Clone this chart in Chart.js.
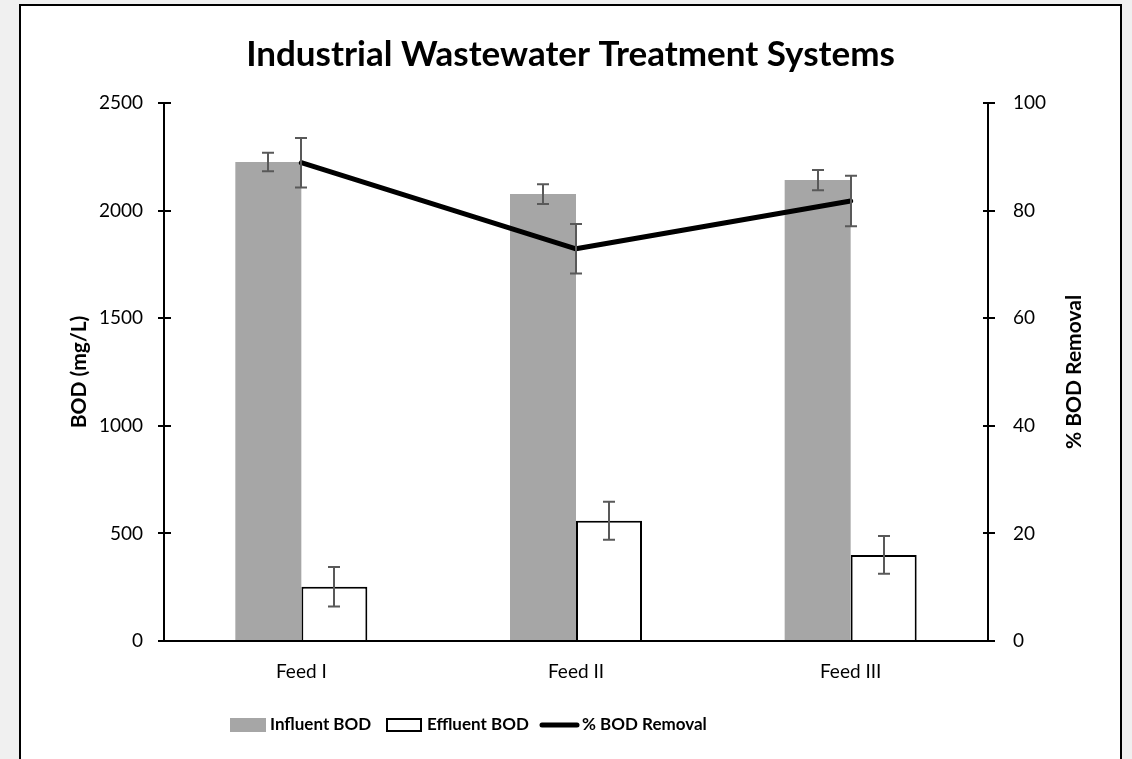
<!DOCTYPE html>
<html>
<head>
<meta charset="utf-8">
<script src="https://cdn.jsdelivr.net/npm/chart.js@4"></script>
<style>
  body { margin: 0; background: #f0f0f0; }
  #box {
    position: absolute; left: 19px; top: 4px;
    width: 1099px; height: 800px;
    border: 2px solid #000; background: #fff;
  }
  #wrap { position: relative; width: 1099px; height: 753px; }
</style>
</head>
<body>
<div id="box"><div id="wrap"><canvas id="bodChart"></canvas></div></div>
<script>
// data
const feeds = ["Feed I", "Feed II", "Feed III"];
const influentBOD = [2226, 2077, 2142];
const influentErr = [43, 46, 47];
const effluentBOD = [252, 559, 400];
const effluentErr = [92, 88, 88];
const bodRemoval = [88.9, 72.9, 81.8];
const removalErr = [4.6, 4.6, 4.7];

Chart.defaults.font.family = "Lato";
Chart.defaults.color = "#000";

// error bars, drawn through the scales
const errorBars = {
    id: "errorBars",
    afterDatasetsDraw(chart) {
        const ctx = chart.ctx;
        ctx.save();
        ctx.strokeStyle = "#595959";
        ctx.lineWidth = 2;
        chart.data.datasets.forEach(function (ds, i) {
            if (!ds.errors) return;
            const meta = chart.getDatasetMeta(i);
            const scale = chart.scales[ds.yAxisID || "y"];
            meta.data.forEach(function (el, j) {
                const x = Math.round(el.x);
                const top = scale.getPixelForValue(ds.data[j] + ds.errors[j]);
                const bot = scale.getPixelForValue(ds.data[j] - ds.errors[j]);
                ctx.beginPath();
                ctx.moveTo(x, top); ctx.lineTo(x, bot);
                ctx.moveTo(x - 6, top); ctx.lineTo(x + 6, top);
                ctx.moveTo(x - 6, bot); ctx.lineTo(x + 6, bot);
                ctx.stroke();
            });
        });
        ctx.restore();
    },
    afterDraw(chart) {
        const ctx = chart.ctx;
        const area = chart.chartArea;
        ctx.save();
        // inner half of the cross tick marks
        ctx.strokeStyle = "#000";
        ctx.lineWidth = 2;
        chart.scales.y.ticks.forEach(function (t) {
            const y = Math.round(chart.scales.y.getPixelForValue(t.value));
            ctx.beginPath(); ctx.moveTo(area.left, y); ctx.lineTo(area.left + 7, y); ctx.stroke();
        });
        chart.scales.y1.ticks.forEach(function (t) {
            const y = Math.round(chart.scales.y1.getPixelForValue(t.value));
            ctx.beginPath(); ctx.moveTo(area.right, y); ctx.lineTo(area.right - 5, y); ctx.stroke();
        });

        // legend
        const ly = 719;
        ctx.font = "bold 17px Lato";
        ctx.textAlign = "left";
        ctx.textBaseline = "middle";
        ctx.fillStyle = "#a6a6a6";
        ctx.fillRect(209, ly - 7, 36, 14);
        ctx.fillStyle = "#fff";
        ctx.fillRect(366, ly - 6, 34, 12);
        ctx.strokeStyle = "#000";
        ctx.lineWidth = 2;
        ctx.strokeRect(366, ly - 6, 34, 12);
        ctx.lineWidth = 5;
        ctx.lineCap = "round";
        ctx.beginPath(); ctx.moveTo(521, ly); ctx.lineTo(556, ly); ctx.stroke();
        ctx.fillStyle = "#000";
        ctx.fillText("Influent BOD", 249, ly);
        ctx.fillText("Effluent BOD", 406, ly);
        ctx.fillText("% BOD Removal", 561, ly);

        // right axis title reads bottom to top
        ctx.translate(1053, (area.top + area.bottom) / 2);
        ctx.rotate(-Math.PI / 2);
        ctx.font = "bold 21px Lato";
        ctx.textAlign = "center";
        ctx.fillText("% BOD Removal", 0, 0);
        ctx.restore();
    }
};

new Chart(document.getElementById("bodChart"), {
    type: "bar",
    data: {
        labels: feeds,
        datasets: [{
            label: "Influent BOD",
            data: influentBOD,
            errors: influentErr,
            backgroundColor: "#a6a6a6",
            borderWidth: 0,
            categoryPercentage: 0.4806,
            barPercentage: 1.0
        }, {
            label: "Effluent BOD",
            data: effluentBOD,
            errors: effluentErr,
            backgroundColor: "#fff",
            borderColor: "#000",
            borderWidth: 2,
            categoryPercentage: 0.4806,
            barPercentage: 1.0
        }, {
            type: "line",
            label: "% BOD Removal",
            data: bodRemoval,
            errors: removalErr,
            yAxisID: "y1",
            borderColor: "#000",
            borderWidth: 5,
            borderCapStyle: "round",
            borderJoinStyle: "round",
            pointRadius: 0,
            tension: 0,
            order: -1
        }]
    },
    options: {
        responsive: true,
        maintainAspectRatio: false,
        animation: false,
        layout: { padding: { left: 0, right: 0, top: 0, bottom: 66.5 } },
        plugins: {
            title: {
                display: true,
                text: "Industrial Wastewater Treatment Systems",
                font: { size: 35, weight: "bold" },
                color: "#000",
                padding: { top: 28, bottom: 27 }
            },
            legend: { display: false },
            tooltip: { enabled: false }
        },
        scales: {
            x: {
                offset: true,
                grid: { display: false, drawTicks: false },
                border: { color: "#000", width: 2 },
                ticks: { font: { size: 19 }, padding: 19 },
                afterFit: function (s) { s.height = 51.5; }
            },
            y: {
                position: "left",
                min: 0, max: 2500,
                ticks: { stepSize: 500, font: { size: 19 }, padding: 15, callback: function (v) { return String(v); } },
                grid: { drawOnChartArea: false, drawTicks: true, tickLength: 6, color: "#000", lineWidth: 2 },
                border: { color: "#000", width: 2 },
                title: {
                    display: true, text: "BOD (mg/L)",
                    font: { size: 21, weight: "bold" },
                    padding: { top: 46, bottom: 0 }
                },
                afterFit: function (s) { s.width = 143; }
            },
            y1: {
                position: "right",
                min: 0, max: 100,
                ticks: { stepSize: 20, font: { size: 19 }, padding: 18, callback: function (v) { return String(v); } },
                grid: { drawOnChartArea: false, drawTicks: true, tickLength: 7, color: "#000", lineWidth: 2 },
                border: { color: "#000", width: 2 },
                afterFit: function (s) { s.width = 132; }
            }
        }
    },
    plugins: [errorBars]
});
</script>
</body>
</html>
